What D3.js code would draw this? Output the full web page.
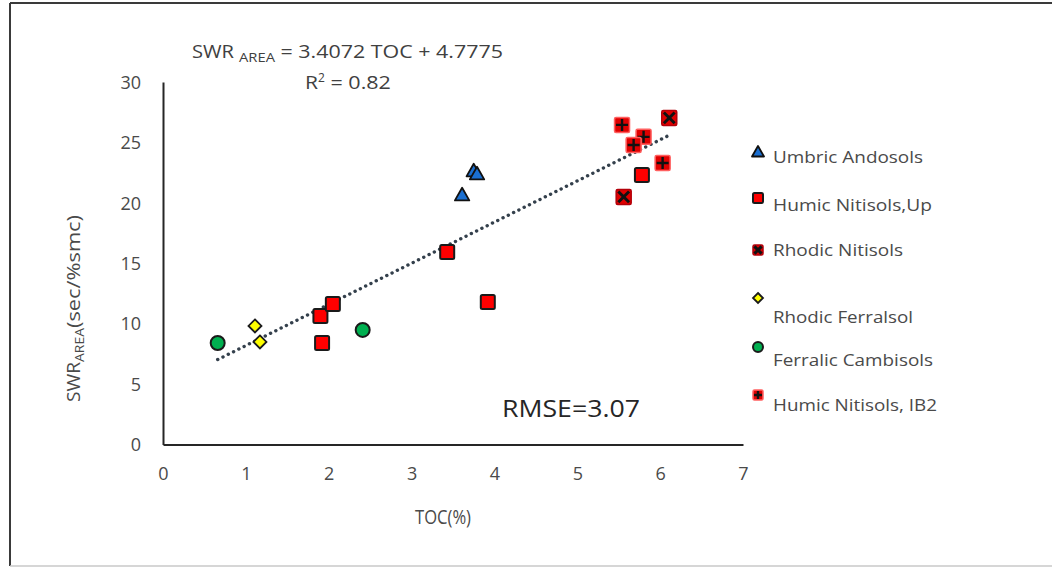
<!DOCTYPE html>
<html>
<head>
<meta charset="utf-8">
<script src="https://cdn.jsdelivr.net/npm/d3@7"></script>
<style>
  html, body { margin: 0; padding: 0; background: #fff; }
  svg { display: block; font-family: "Open Sans", "Noto Sans", sans-serif; }
</style>
</head>
<body>
<svg id="chart" width="1052" height="569"></svg>
<script>
// Soil groups and their measurements: TOC (%) against SWR_AREA (sec/%smc)
const seriesNames = ["Umbric Andosols", "Humic Nitisols,Up", "Rhodic Nitisols", "Rhodic Ferralsol", "Ferralic Cambisols", "Humic Nitisols, IB2"];
const umbricToc = [3.61, 3.75, 3.79];
const umbricSwr = [20.65, 22.64, 22.39];
const humicUpToc = [1.90, 1.92, 2.05, 3.43, 3.92, 5.78];
const humicUpSwr = [10.64, 8.40, 11.63, 15.93, 11.80, 22.31];
const rhodicNitToc = [5.56, 6.11];
const rhodicNitSwr = [20.49, 27.03];
const ferralsolToc = [1.11, 1.17];
const ferralsolSwr = [9.81, 8.49];
const cambisolToc = [0.66, 2.41];
const cambisolSwr = [8.40, 9.48];
const ib2Toc = [5.54, 5.80, 5.68, 6.03];
const ib2Swr = [26.45, 25.46, 24.79, 23.30];

// Linear trend fitted over all samples
const trendSlope = 3.4072;
const trendIntercept = 4.7775;
const rSquared = 0.82;
const rmse = 3.07;

const xTicks = [0, 1, 2, 3, 4, 5, 6, 7];
const yTicks = [0, 5, 10, 15, 20, 25, 30];

const textColor = "#4a4a4a";
const svg = d3.select("#chart");

// Outer frame
svg.append("line").attr("x1", 10).attr("y1", 3).attr("x2", 1052).attr("y2", 3)
  .attr("stroke", "#3a3a3a").attr("stroke-width", 2);
svg.append("line").attr("x1", 10).attr("y1", 3).attr("x2", 10).attr("y2", 566)
  .attr("stroke", "#3a3a3a").attr("stroke-width", 2);
svg.append("line").attr("x1", 10).attr("y1", 566).attr("x2", 1052).attr("y2", 566)
  .attr("stroke", "#c8c8c8").attr("stroke-width", 1.5);

const x = d3.scaleLinear().domain([0, 7]).range([163, 743]);
const y = d3.scaleLinear().domain([0, 30]).range([444.5, 82]);

// Axes without tick marks
const xAxis = svg.append("g").attr("transform", `translate(0,${y(0)})`)
  .call(d3.axisBottom(x).tickValues(xTicks).tickSize(0).tickPadding(23).tickFormat(d3.format("d")));
const yAxis = svg.append("g").attr("transform", `translate(${x(0)},0)`)
  .call(d3.axisLeft(y).tickValues(yTicks).tickSize(0).tickPadding(22).tickFormat(d3.format("d")));
[xAxis, yAxis].forEach(g => {
  g.select(".domain").attr("stroke", "#262626").attr("stroke-width", 2);
  g.selectAll("text").attr("fill", textColor).style("font-size", "18px")
    .style("font-family", "'Open Sans', sans-serif");
});
yAxis.selectAll("text").attr("dy", "0.35em");

// Axis titles
svg.append("text").attr("x", 415).attr("y", 524)
  .attr("textLength", 56).attr("lengthAdjust", "spacingAndGlyphs")
  .attr("fill", textColor).style("font-size", "20px").text("TOC(%)");
const yTitle = svg.append("text").attr("transform", "translate(80,402) rotate(-90)")
  .attr("fill", textColor).style("font-size", "19px");
yTitle.append("tspan").attr("textLength", 40).attr("lengthAdjust", "spacingAndGlyphs").text("SWR");
yTitle.append("tspan").attr("dy", 4).style("font-size", "12px")
  .attr("textLength", 34).attr("lengthAdjust", "spacingAndGlyphs").text("AREA");
yTitle.append("tspan").attr("dy", -4)
  .attr("textLength", 113).attr("lengthAdjust", "spacingAndGlyphs").text("(sec/%smc)");

// Trend line across the sampled TOC range
const allToc = [].concat(umbricToc, humicUpToc, rhodicNitToc, ferralsolToc, cambisolToc, ib2Toc);
const tocExtent = d3.extent(allToc);
svg.append("path")
  .attr("d", d3.line().x(d => x(d)).y(d => y(trendSlope * d + trendIntercept))(tocExtent))
  .attr("fill", "none").attr("stroke", "#34404c").attr("stroke-width", 3.4)
  .attr("stroke-linecap", "round").attr("stroke-dasharray", "0.1 5.8");

// Marker painters
function drawTriangle(g, s) {
  g.append("path").attr("d", `M0,${-s * 0.6}L${s * 0.6},${s * 0.45}L${-s * 0.6},${s * 0.45}Z`)
    .attr("fill", "#1a6fd1").attr("stroke", "#111").attr("stroke-width", 1.8).attr("stroke-linejoin", "round");
}
function drawSquare(g, s) {
  g.append("rect").attr("x", -s / 2).attr("y", -s / 2).attr("width", s).attr("height", s).attr("rx", 1.5)
    .attr("fill", "#ff0000").attr("stroke", "#1a1a1a").attr("stroke-width", 2);
}
function drawCrossSquare(g, s) {
  g.append("rect").attr("x", -s / 2).attr("y", -s / 2).attr("width", s).attr("height", s).attr("rx", 1.5)
    .attr("fill", "#e00000").attr("stroke", "#b3000a").attr("stroke-width", 1.5);
  const k = s * 0.36;
  g.append("path").attr("d", `M${-k},${-k}L${k},${k}M${k},${-k}L${-k},${k}`)
    .attr("stroke", "#111").attr("stroke-width", 3);
}
function drawPlusSquare(g, s) {
  g.append("rect").attr("x", -s / 2).attr("y", -s / 2).attr("width", s).attr("height", s).attr("rx", 1.5)
    .attr("fill", "#e00000").attr("stroke", "#ff6060").attr("stroke-width", 1.5);
  const k = s * 0.4;
  g.append("path").attr("d", `M${-k},0L${k},0M0,${-k}L0,${k}`)
    .attr("stroke", "#111").attr("stroke-width", 2.4);
}
function drawDiamond(g, s) {
  const k = s / 2;
  g.append("path").attr("d", `M0,${-k}L${k},0L0,${k}L${-k},0Z`)
    .attr("fill", "#ffff00").attr("stroke", "#1a1a1a").attr("stroke-width", 1.8);
}
function drawCircle(g, s) {
  g.append("circle").attr("r", s / 2).attr("fill", "#00b050").attr("stroke", "#1a1a1a").attr("stroke-width", 2);
}

const series = [
  { name: seriesNames[0], xs: umbricToc, ys: umbricSwr, draw: drawTriangle, size: 12, legendSize: 10, textLen: 150 },
  { name: seriesNames[1], xs: humicUpToc, ys: humicUpSwr, draw: drawSquare, size: 14, legendSize: 10, textLen: 159 },
  { name: seriesNames[2], xs: rhodicNitToc, ys: rhodicNitSwr, draw: drawCrossSquare, size: 15, legendSize: 10, textLen: 130 },
  { name: seriesNames[3], xs: ferralsolToc, ys: ferralsolSwr, draw: drawDiamond, size: 13, legendSize: 10, textLen: 140 },
  { name: seriesNames[4], xs: cambisolToc, ys: cambisolSwr, draw: drawCircle, size: 14, legendSize: 10, textLen: 160 },
  { name: seriesNames[5], xs: ib2Toc, ys: ib2Swr, draw: drawPlusSquare, size: 15, legendSize: 10, textLen: 164 }
];

// Points
const plot = svg.append("g");
series.forEach(s => {
  s.xs.forEach((v, i) => {
    const g = plot.append("g").attr("transform", `translate(${x(v)},${y(s.ys[i])})`);
    s.draw(g, s.size);
  });
});

// Legend
const legendMarkerY = [152, 198, 250, 298, 347, 395];
const legendTextY = [163, 211, 256, 323, 366, 411];
series.forEach((s, i) => {
  const g = svg.append("g").attr("transform", `translate(758,${legendMarkerY[i]})`);
  s.draw(g, s.legendSize);
  svg.append("text").attr("x", 773).attr("y", legendTextY[i]).attr("fill", textColor)
    .attr("textLength", s.textLen).attr("lengthAdjust", "spacingAndGlyphs")
    .style("font-size", "16.5px").style("font-family", "'Open Sans', sans-serif").text(s.name);
});

// Equation and goodness of fit
const eq = svg.append("text").attr("x", 192).attr("y", 58)
  .attr("fill", "#404040").style("font-size", "19px");
eq.append("tspan").attr("textLength", 42).attr("lengthAdjust", "spacingAndGlyphs").text("SWR");
eq.append("tspan").attr("dx", 5).attr("dy", 4).style("font-size", "12px")
  .attr("textLength", 36).attr("lengthAdjust", "spacingAndGlyphs").text("AREA");
eq.append("tspan").attr("dy", -4)
  .attr("textLength", 228).attr("lengthAdjust", "spacingAndGlyphs")
  .text(` = ${trendSlope} TOC + ${trendIntercept}`);
const r2 = svg.append("text").attr("x", 305).attr("y", 89)
  .attr("fill", "#404040").style("font-size", "19px");
r2.append("tspan").attr("textLength", 13).attr("lengthAdjust", "spacingAndGlyphs").text("R");
r2.append("tspan").attr("dy", -7).style("font-size", "12px").text("2");
r2.append("tspan").attr("dy", 7)
  .attr("textLength", 66).attr("lengthAdjust", "spacingAndGlyphs").text(` = ${rSquared}`);

svg.append("text").attr("x", 502).attr("y", 417).attr("fill", "#262626")
  .attr("textLength", 138).attr("lengthAdjust", "spacingAndGlyphs")
  .style("font-size", "23px").text(`RMSE=${rmse}`);
</script>
</body>
</html>
